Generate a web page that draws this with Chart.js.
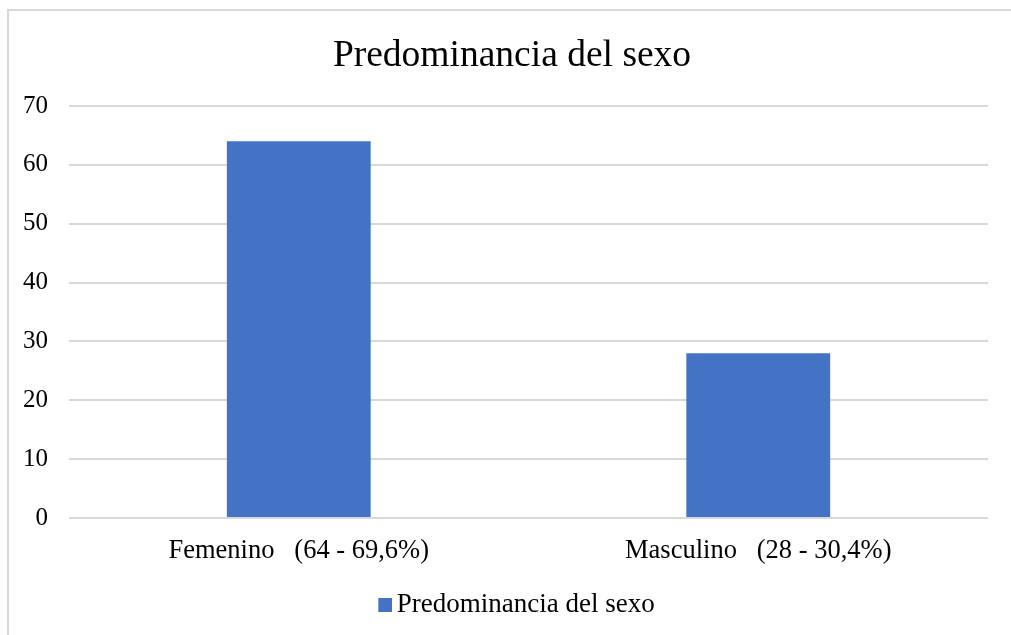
<!DOCTYPE html>
<html>
<head>
<meta charset="utf-8">
<script src="https://cdn.jsdelivr.net/npm/chart.js@4"></script>
<style>
  html, body { margin: 0; padding: 0; background: #ffffff; overflow: hidden; }
  #wrap { position: relative; width: 1011px; height: 635px; overflow: hidden; }
  #c { position: absolute; left: 0; top: 0; }
  #frame { position: absolute; left: 7px; top: 9px; width: 1100px; height: 700px;
           border-left: 2px solid #d9d9d9; border-top: 2px solid #d9d9d9; pointer-events: none; }
</style>
</head>
<body>
<div id="wrap">
  <canvas id="c" width="1024" height="635"></canvas>
  <div id="frame"></div>
</div>
<script>
const categories = ["Femenino   (64 - 69,6%)", "Masculino   (28 - 30,4%)"];
const values = [64, 28];
const seriesName = "Predominancia del sexo";
const chartTitle = "Predominancia del sexo";
const yMin = 0, yMax = 70, yStep = 10;

const FONT = "'Liberation Serif', 'Times New Roman', serif";
const BLUE = "#4472c4";

// legend marker: square placed at the right of a wider transparent image
const marker = document.createElement('canvas');
marker.width = 32; marker.height = 14;
const mctx = marker.getContext('2d');
mctx.fillStyle = BLUE;
mctx.fillRect(18, 0, 14, 14);

new Chart(document.getElementById('c'), {
  type: 'bar',
  data: {
    labels: categories,
    datasets: [{
      label: seriesName,
      data: values,
      backgroundColor: BLUE,
      borderWidth: 0,
      barPercentage: 1,
      categoryPercentage: 0.313,
      yAxisID: 'y'
    }]
  },
  options: {
    responsive: false,
    animation: false,
    devicePixelRatio: 1,
    layout: { padding: { left: 0, right: 0, top: 0, bottom: 6.5 } },
    plugins: {
      title: {
        display: true,
        text: chartTitle,
        color: '#000000',
        font: { family: FONT, size: 37.5, weight: 'normal' },
        padding: { top: 34, bottom: 27 }
      },
      legend: {
        display: true,
        position: 'bottom',
        labels: {
          color: '#000000',
          font: { family: FONT, size: 27 },
          usePointStyle: true,
          pointStyle: marker,
          pointStyleWidth: 14,
          boxHeight: 14,
          padding: 10
        }
      },
      tooltip: { enabled: false }
    },
    scales: {
      x: {
        grid: { display: false, drawTicks: false },
        border: { display: false },
        ticks: { color: '#000000', font: { family: FONT, size: 26.5 }, padding: 17, maxRotation: 0 },
        afterFit: (s) => { s.height = 63.5; }
      },
      y: {
        position: 'left',
        min: yMin, max: yMax,
        grid: { color: '#d9d9d9', lineWidth: 2, drawTicks: false },
        border: { display: false },
        ticks: { stepSize: yStep, color: '#000000', font: { family: FONT, size: 25 }, padding: 21 },
        afterFit: (s) => { s.width = 69; }
      },
      yRight: {
        position: 'right',
        display: true,
        grid: { display: false, drawTicks: false },
        border: { display: false },
        ticks: { display: false },
        afterFit: (s) => { s.width = 36; }
      }
    }
  }
});
</script>
</body>
</html>
